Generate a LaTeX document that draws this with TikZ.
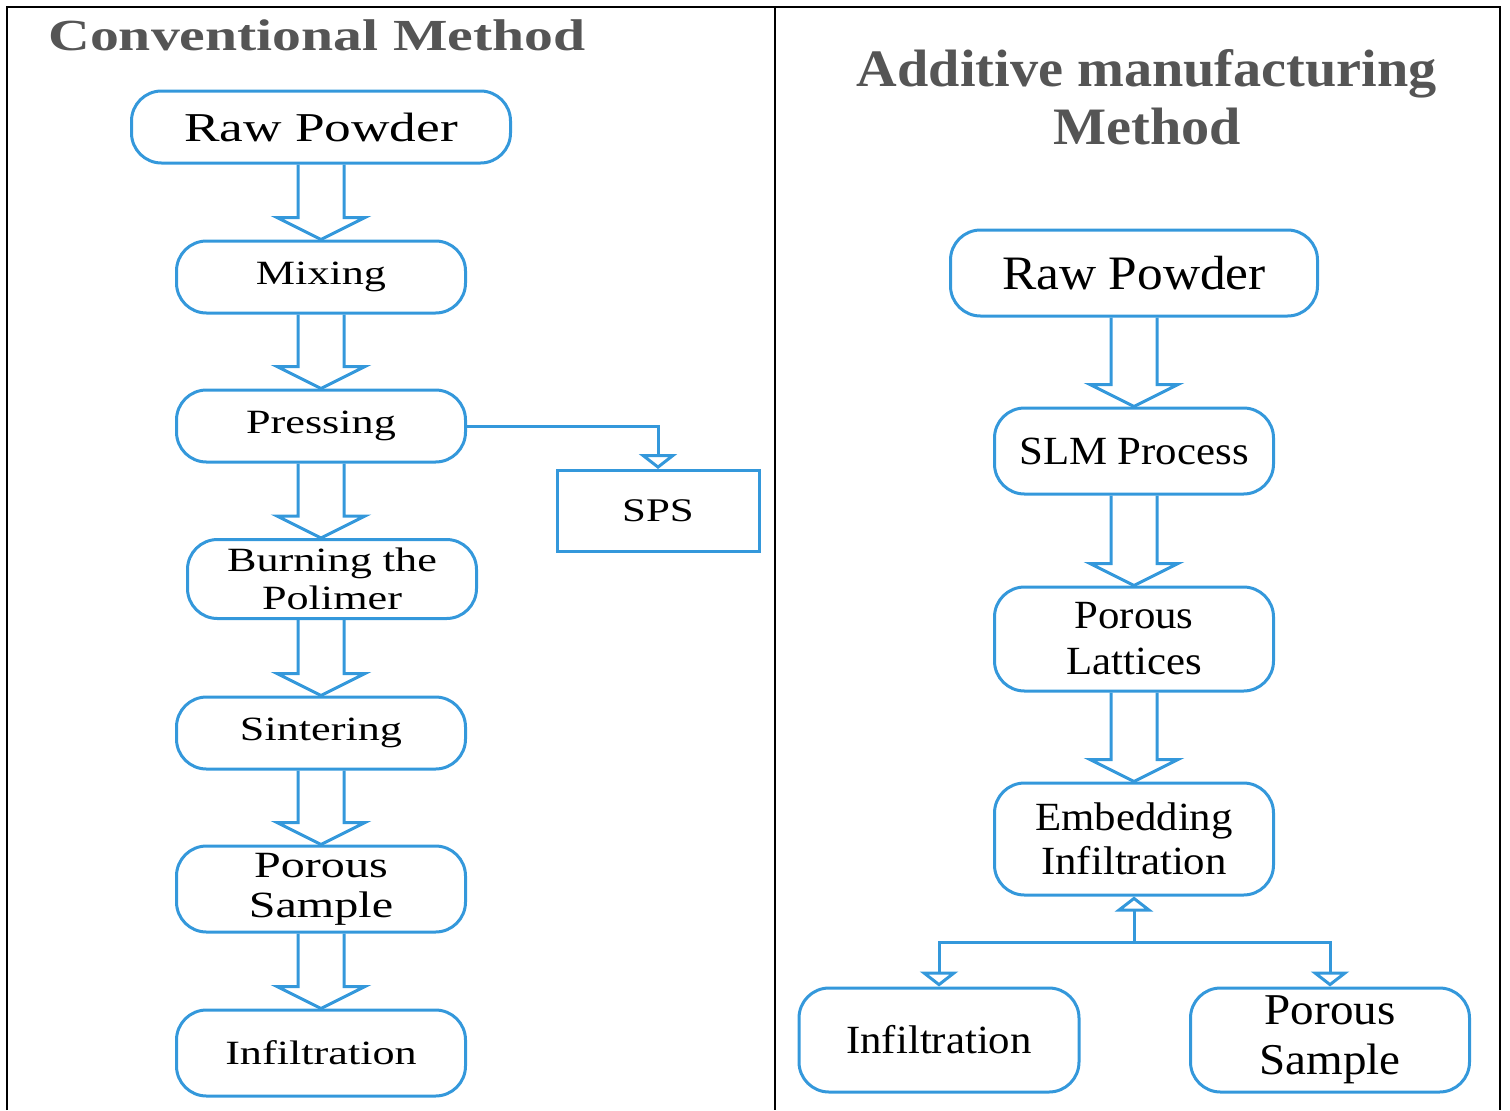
\documentclass[tikz,border=0pt]{standalone}
\usepackage{fontspec}
\setmainfont{Liberation Serif}
\newfontfamily\widefont[FakeStretch=1.3]{Liberation Serif}
\newfontfamily\narrowfont[FakeStretch=1.07]{Liberation Serif}
\usetikzlibrary{arrows.meta, calc}
\definecolor{flowblue}{RGB}{52,152,219}
\definecolor{titlegray}{RGB}{85,85,85}
\tikzset{
  stage/.style={rectangle, rounded corners=15pt, draw=flowblue, line width=1.5pt, text=black, align=center, inner sep=0pt, minimum width=144.5pt, minimum height=36pt},
  plainbox/.style={rectangle, draw=flowblue, line width=1.5pt, text=black, align=center, inner sep=0pt, minimum width=101pt, minimum height=40.5pt},
  link/.style={draw=flowblue, line width=1.5pt, -{Triangle[open, width=19pt, length=7.5pt]}},
  fat/.style={draw=flowblue, line width=1.5pt, line join=miter},
  frame/.style={draw=black, line width=1pt},
  heading/.style={text=titlegray, inner sep=0pt, align=center}
}
\newcommand{\fatarrow}[2]{%
  \draw[fat] let \p1=(#1), \p2=(#2) in
    (\x2-11.5pt,\y1) -- (\x2-11.5pt,\y2+11pt) -- (\x2-22pt,\y2+11pt) -- (\x2,\y2)
    -- (\x2+22pt,\y2+11pt) -- (\x2+11.5pt,\y2+11pt) -- (\x2+11.5pt,\y1);}

\begin{document}
\begin{tikzpicture}[x=0.5pt, y=-0.5pt]
  \useasboundingbox (0,0) rectangle (1510,1110);
  \draw[frame] (7,1110) -- (7,7) -- (1500,7) -- (1500,1110);
  \draw[frame] (775,7) -- (775,1110);

  \node[heading, anchor=base west, font={\widefont\bfseries\fontsize{22.2}{25}\selectfont}](t1) at (48,50){Conventional Method};
  \node[heading, font={\narrowfont\bfseries\fontsize{26.3}{29}\selectfont}](t2) at (1147,97){Additive manufacturing\\Method};

  \node[stage, minimum width=189.5pt, font={\widefont\fontsize{20.5}{23}\selectfont}](c1) at (321,127){Raw Powder};
  \node[stage, font={\widefont\fontsize{17}{19}\selectfont}](c2) at (321,277){Mixing};
  \node[stage, font={\widefont\fontsize{17}{19}\selectfont}](c3) at (321,426){Pressing};
  \node[stage, minimum height=39.5pt, font={\widefont\fontsize{17}{19}\selectfont}](c4) at (332,579){Burning the\\Polimer};
  \node[stage, font={\widefont\fontsize{17}{19}\selectfont}](c5) at (321,733){Sintering};
  \node[stage, minimum height=43pt, font={\widefont\fontsize{18.5}{20}\selectfont}](c6) at (321,889){Porous\\Sample};
  \node[stage, minimum height=43pt, font={\widefont\fontsize{17}{19}\selectfont}](c7) at (321,1053){Infiltration};
  \node[plainbox, font={\widefont\fontsize{16.5}{19}\selectfont}](sps) at (658,511){SPS};

  \fatarrow{c1.south}{c2.north}
  \fatarrow{c2.south}{c3.north}
  \fatarrow{c3.south}{c3.south |- c4.north}
  \fatarrow{c4.south}{c5.north}
  \fatarrow{c5.south}{c6.north}
  \fatarrow{c6.south}{c7.north}
  \draw[link](c3.east) -| (sps.north);

  \node[stage, minimum width=183.5pt, minimum height=43pt, font={\narrowfont\fontsize{24}{27}\selectfont}](a1) at (1134,273){Raw Powder};
  \node[stage, minimum width=139.5pt, minimum height=43pt, font={\narrowfont\fontsize{20}{23}\selectfont}](a2) at (1134,451){SLM Process};
  \node[stage, minimum width=139.5pt, minimum height=52pt, font={\narrowfont\fontsize{20}{23}\selectfont}](a3) at (1134,639){Porous\\Lattices};
  \node[stage, minimum width=139.5pt, minimum height=56pt, font={\narrowfont\fontsize{20}{22}\selectfont}](a4) at (1134,839){Embedding\\Infiltration};
  \node[stage, minimum width=140pt, minimum height=52pt, font={\narrowfont\fontsize{20}{23}\selectfont}](a5) at (939,1040){Infiltration};
  \node[stage, minimum width=139.5pt, minimum height=52pt, font={\narrowfont\fontsize{22}{25}\selectfont}](a6) at (1330,1040){Porous\\Sample};
  \coordinate(fork) at (1134,942);

  \fatarrow{a1.south}{a2.north}
  \fatarrow{a2.south}{a3.north}
  \fatarrow{a3.south}{a4.north}
  \draw[link](fork) -- (a4.south);
  \draw[link](fork) -| (a5.north);
  \draw[link](fork) -| (a6.north);
\end{tikzpicture}
\end{document}
